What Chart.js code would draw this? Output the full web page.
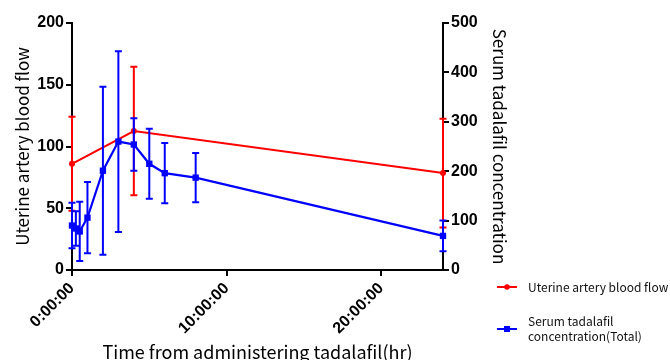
<!DOCTYPE html>
<html>
<head>
<meta charset="utf-8">
<script src="https://cdn.jsdelivr.net/npm/chart.js@4.4.0/dist/chart.umd.min.js"></script>
<style>
html,body{margin:0;padding:0;background:#fff;}
#wrap{width:670px;height:360px;position:relative;}
</style>
</head>
<body>
<div id="wrap"><canvas id="c"></canvas></div>
<script>
// ---- data ----
const flowTimes = [0, 4, 24];
const flowMean = [86, 112.5, 78.5];
const flowSD = [38, 52, 44];

const concTimes = [0, 0.25, 0.5, 1, 2, 3, 4, 5, 6, 8, 24];
const concMean = [90, 84, 78, 106, 201, 260, 254, 215, 196, 187, 69];
const concSD = [46, 35, 60, 72, 170, 183, 53, 71, 61, 50, 31];

const xTickValues = [0, 10, 20];
const xTickLabels = ['0:00:00', '10:00:00', '20:00:00'];
const leftTicks = [0, 50, 100, 150, 200];
const rightTicks = [0, 100, 200, 300, 400, 500];

const seriesNames = ['Uterine artery blood flow', ['Serum tadalafil', 'concentration(Total)']];
const xTitle = 'Time from administering tadalafil(hr)';
const leftTitle = 'Uterine artery blood flow';
const rightTitle = 'Serum tadalafil concentration';

const RED = '#ff0000', BLUE = '#0000ff';
const tickFont = {family: '"Liberation Sans", Arial, sans-serif', size: 16, weight: 'bold'};
const titleFont = {family: '"Noto Sans CJK JP", "Noto Sans", sans-serif', size: 17};

const errorBars = {
  id: 'errorBars',
  afterDatasetDraw(chart, args) {
    const ds = chart.data.datasets[args.index];
    if (!ds.errors) return;
    const xs = chart.scales.x, ys = chart.scales[ds.yAxisID];
    const ctx = chart.ctx;
    ctx.save();
    ctx.strokeStyle = ds.borderColor;
    ctx.lineWidth = 2;
    ds.data.forEach((p, i) => {
      const x = xs.getPixelForValue(p.x);
      const yt = ys.getPixelForValue(p.y + ds.errors[i]);
      const yb = ys.getPixelForValue(Math.max(0, p.y - ds.errors[i]));
      ctx.beginPath();
      ctx.moveTo(x, yt); ctx.lineTo(x, yb);
      ctx.moveTo(x - 3.5, yt); ctx.lineTo(x + 3.5, yt);
      ctx.moveTo(x - 3.5, yb); ctx.lineTo(x + 3.5, yb);
      ctx.stroke();
    });
    ctx.restore();
  }
};

const customLegend = {
  id: 'customLegend',
  afterDraw(chart) {
    const ctx = chart.ctx;
    ctx.save();
    const items = [
      {color: RED, style: 'circle', y: 287, text: seriesNames[0]},
      {color: BLUE, style: 'rect', y: 329, text: seriesNames[1]}
    ];
    ctx.font = '12px "Noto Sans CJK JP", "Noto Sans", sans-serif';
    ctx.textBaseline = 'middle';
    items.forEach(it => {
      ctx.strokeStyle = it.color; ctx.fillStyle = it.color; ctx.lineWidth = 2;
      ctx.beginPath(); ctx.moveTo(497, it.y); ctx.lineTo(517, it.y); ctx.stroke();
      if (it.style === 'circle') { ctx.beginPath(); ctx.arc(507, it.y, 2.8, 0, Math.PI * 2); ctx.fill(); }
      else { ctx.fillRect(504, it.y - 3, 6, 6); }
      ctx.fillStyle = '#111';
      const lines = Array.isArray(it.text) ? it.text : [it.text];
      const lh = 15;
      lines.forEach((t, k) => {
        ctx.fillText(t, 528, it.y - (lines.length - 1) * lh / 2 + k * lh);
      });
    });
    ctx.restore();
  }
};

new Chart(document.getElementById('c'), {
  type: 'line',
  data: {
    datasets: [
      {
        label: seriesNames[0],
        data: flowTimes.map((t, i) => ({x: t, y: flowMean[i]})),
        errors: flowSD,
        borderColor: RED, backgroundColor: RED,
        borderWidth: 2, pointStyle: 'circle', pointRadius: 3, pointBorderWidth: 0,
        yAxisID: 'y', order: 2, clip: false, tension: 0
      },
      {
        label: seriesNames[1].join(' '),
        data: concTimes.map((t, i) => ({x: t, y: concMean[i]})),
        errors: concSD,
        borderColor: BLUE, backgroundColor: BLUE,
        borderWidth: 2.2, pointStyle: 'rect', pointRadius: 4.5, pointBorderWidth: 0,
        yAxisID: 'y2', order: 1, clip: false, tension: 0
      }
    ]
  },
  options: {
    responsive: true, maintainAspectRatio: false, animation: false,
    layout: {padding: {left: 12, right: 160, top: 23, bottom: 0}},
    plugins: {legend: {display: false}, tooltip: {enabled: false}},
    scales: {
      x: {
        type: 'linear', position: 'bottom', min: 0, max: 24,
        afterBuildTicks: s => { s.ticks = xTickValues.map(v => ({value: v})); },
        afterFit: s => { s.height = 90; },
        ticks: {
          callback: v => xTickLabels[xTickValues.indexOf(v)],
          minRotation: 45, maxRotation: 45, font: tickFont, color: '#000', padding: 3, autoSkip: false
        },
        grid: {drawOnChartArea: false, drawTicks: true, tickLength: 6, color: '#000', lineWidth: 2},
        border: {display: true, color: '#000', width: 2},
        title: {display: true, text: xTitle, font: {...titleFont, size: 18}, color: '#000', padding: {top: 0, bottom: -3}}
      },
      y: {
        type: 'linear', position: 'left', min: 0, max: 200,
        afterBuildTicks: s => { s.ticks = leftTicks.map(v => ({value: v})); },
        afterFit: s => { s.width = 60; },
        ticks: {font: tickFont, color: '#000', padding: 2},
        grid: {drawOnChartArea: false, drawTicks: true, tickLength: 6, color: '#000', lineWidth: 2},
        border: {display: true, color: '#000', width: 2},
        title: {display: true, text: leftTitle, font: titleFont, color: '#000', padding: {top: 0, bottom: 2}}
      },
      y2: {
        type: 'linear', position: 'right', min: 0, max: 500,
        afterBuildTicks: s => { s.ticks = rightTicks.map(v => ({value: v})); },
        afterFit: s => { s.width = 67; },
        ticks: {font: tickFont, color: '#000', padding: 2},
        grid: {drawOnChartArea: false, drawTicks: true, tickLength: 6, color: '#000', lineWidth: 2},
        border: {display: true, color: '#000', width: 2},
        title: {display: true, text: rightTitle, font: titleFont, color: '#000', padding: {top: 0, bottom: 2}}
      }
    }
  },
  plugins: [errorBars, customLegend]
});
</script>
</body>
</html>
